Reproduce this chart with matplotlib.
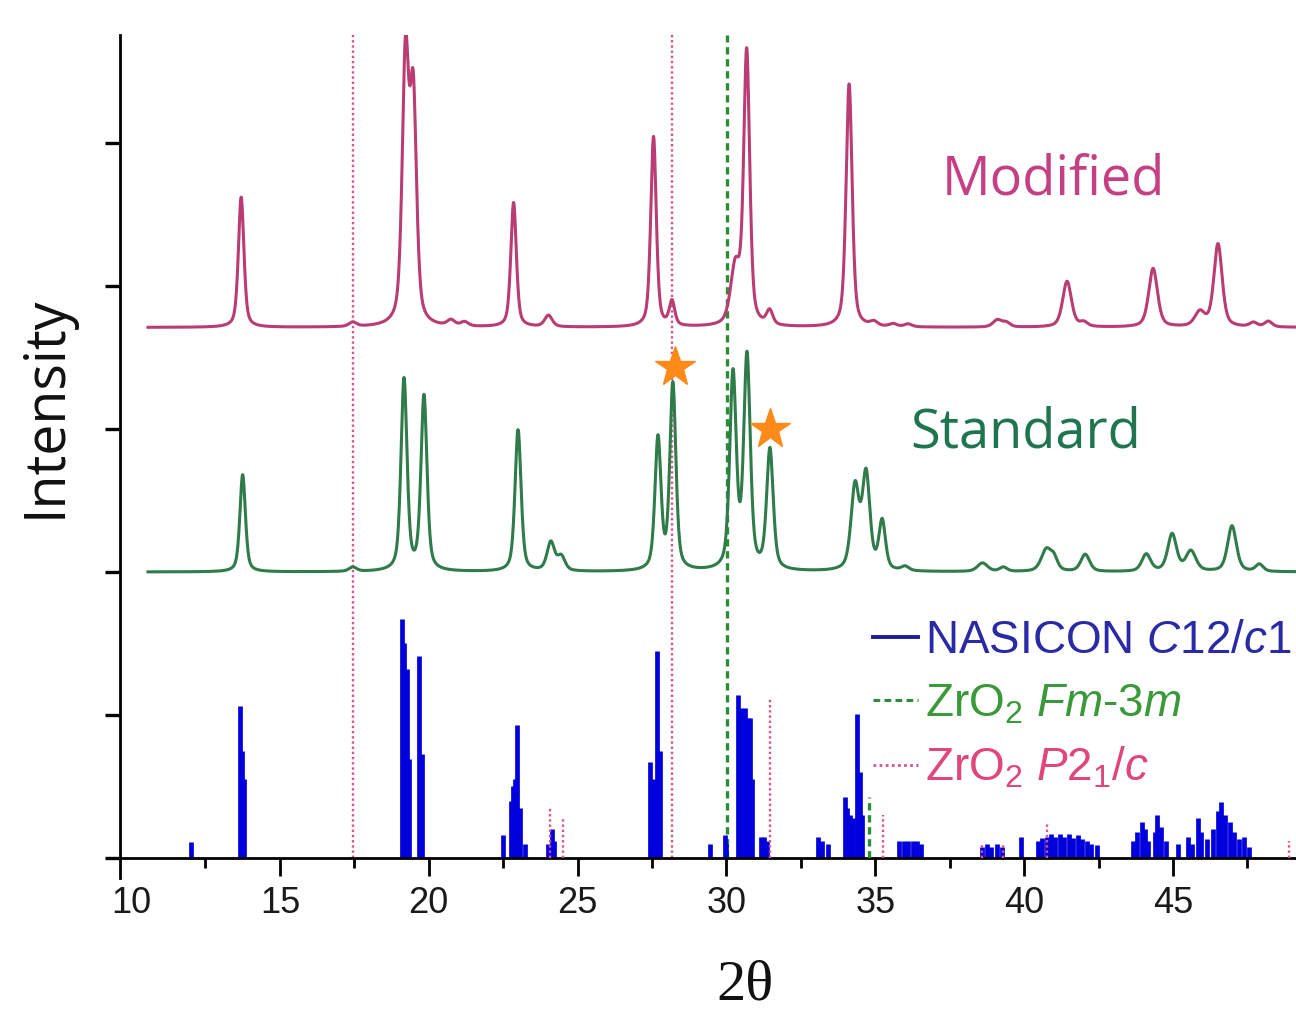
import numpy as np
import matplotlib
matplotlib.use("Agg")
import matplotlib.pyplot as plt
from matplotlib.lines import Line2D
from matplotlib.ticker import MultipleLocator

plt.rcParams['mathtext.fontset'] = 'custom'
plt.rcParams['mathtext.rm'] = 'Liberation Sans'
plt.rcParams['mathtext.it'] = 'Liberation Sans:italic'

# ---------------- data ----------------
# Modified pattern: peak positions (2theta), heights (a.u.), widths (deg)
mod_pos = [13.70, 17.45, 19.22, 19.48, 20.75, 21.20, 22.85, 24.02, 27.55, 28.17,
           30.30, 30.68, 31.45, 34.12, 34.95, 35.60, 36.10, 39.10, 39.40, 41.44,
           42.00, 44.33, 45.90, 46.51, 47.70, 48.20]
mod_hgt = [0.91, 0.03, 1.85, 1.55, 0.04, 0.03, 0.87, 0.08, 1.33, 0.17,
           0.40, 1.90, 0.10, 1.70, 0.03, 0.02, 0.02, 0.05, 0.03, 0.32,
           0.03, 0.41, 0.10, 0.58, 0.03, 0.04]
mod_wid = [0.22, 0.30, 0.26, 0.26, 0.30, 0.30, 0.22, 0.30, 0.22, 0.22,
           0.38, 0.24, 0.25, 0.24, 0.30, 0.30, 0.30, 0.35, 0.30, 0.35,
           0.30, 0.35, 0.40, 0.33, 0.30, 0.30]
mod_base = 3.71

# Standard pattern
std_pos = [13.75, 17.45, 19.17, 19.84, 23.00, 24.10, 24.45, 27.70, 28.20, 30.22,
           30.69, 31.46, 34.32, 34.69, 35.23, 36.00, 38.60, 39.30, 40.74, 41.00,
           42.05, 44.10, 44.97, 45.60, 46.98, 47.90]
std_hgt = [0.68, 0.03, 1.34, 1.22, 0.99, 0.20, 0.10, 0.92, 1.30, 1.36,
           1.48, 0.84, 0.58, 0.66, 0.34, 0.03, 0.06, 0.03, 0.15, 0.08,
           0.12, 0.12, 0.26, 0.14, 0.32, 0.05]
std_wid = [0.22, 0.30, 0.24, 0.24, 0.24, 0.30, 0.30, 0.24, 0.24, 0.26,
           0.26, 0.26, 0.32, 0.30, 0.26, 0.30, 0.40, 0.30, 0.40, 0.30,
           0.35, 0.35, 0.35, 0.40, 0.35, 0.30]
std_base = 2.00

# NASICON C12/c1 reference sticks
nas_pos = [12.00, 13.66, 13.72, 13.78, 19.10, 19.18, 19.27, 19.34, 19.67, 19.77,
           22.50, 22.75, 22.83, 22.90, 22.97, 23.05, 23.23, 24.00, 24.13, 24.22,
           27.43, 27.55, 27.67, 27.77, 29.45, 29.95, 30.00, 30.39, 30.50, 30.62,
           30.72, 30.79, 30.86, 31.15, 31.25, 31.35, 33.08, 33.20, 33.40, 33.98,
           34.05, 34.15, 34.25, 34.39, 34.47, 34.55, 35.80, 35.95, 36.10, 36.25,
           36.40, 36.55, 38.60, 38.75, 38.90, 39.10, 39.25, 39.90, 40.45, 40.60,
           40.75, 40.90, 41.05, 41.20, 41.35, 41.50, 41.65, 41.80, 41.95, 42.10,
           42.25, 42.45, 43.65, 43.80, 43.95, 44.05, 44.15, 44.40, 44.47, 44.60,
           44.75, 45.15, 45.50, 45.65, 45.84, 45.95, 46.15, 46.35, 46.50, 46.62,
           46.75, 46.90, 47.05, 47.20, 47.40, 47.55]
nas_hgt = [0.11, 1.06, 0.75, 0.55, 1.67, 1.50, 1.32, 0.69, 1.41, 0.73,
           0.16, 0.40, 0.50, 0.55, 0.93, 0.35, 0.10, 0.10, 0.20, 0.12,
           0.67, 0.55, 1.45, 0.75, 0.10, 0.16, 0.10, 1.14, 1.05, 1.05,
           0.98, 0.98, 0.55, 0.15, 0.15, 0.12, 0.15, 0.12, 0.10, 0.43,
           0.35, 0.30, 0.28, 1.01, 0.60, 0.30, 0.12, 0.12, 0.12, 0.12,
           0.12, 0.10, 0.08, 0.10, 0.08, 0.10, 0.08, 0.15, 0.12, 0.14,
           0.15, 0.17, 0.15, 0.17, 0.15, 0.17, 0.14, 0.16, 0.13, 0.12,
           0.10, 0.09, 0.12, 0.18, 0.25, 0.20, 0.12, 0.18, 0.30, 0.22,
           0.12, 0.10, 0.15, 0.10, 0.28, 0.18, 0.13, 0.20, 0.33, 0.39,
           0.30, 0.25, 0.18, 0.13, 0.15, 0.08]

# ZrO2 reference lines
mono_full = [17.45, 28.17]            # P2_1/c, full height
mono_pos = [24.07, 24.50, 31.45, 35.26, 38.60, 39.30, 40.75, 48.90]
mono_hgt = [0.35, 0.27, 1.12, 0.30, 0.10, 0.10, 0.24, 0.12]
cub_full = [30.02]                     # Fm-3m, full height
cub_pos = [34.79]
cub_hgt = [0.43]

star_x = [28.27, 31.46]
star_y = [3.43, 3.00]

xticks = [10, 15, 20, 25, 30, 35, 40, 45]


def profile(x, pos, hgt, wid, eta=0.5):
    y = np.zeros_like(x)
    for p, h, w in zip(pos, hgt, wid):
        d = (x - p) / w
        g = np.exp(-4 * np.log(2) * d ** 2)
        l = 1.0 / (1.0 + 4 * d ** 2)
        y += h * (eta * l + (1 - eta) * g)
    return y


x = np.arange(10.57, 49.2, 0.01)
y_mod = mod_base + profile(x, mod_pos, mod_hgt, mod_wid)
y_std = std_base + profile(x, std_pos, std_hgt, std_wid)

# ---------------- figure ----------------
W, H = 1296, 1023
fig = plt.figure(figsize=(W / 100, H / 100), dpi=100)
ax = fig.add_axes([120 / W, 165 / H, 1176 / W, 823 / H])
ax.set_xlim(9.63, 49.13)
ax.set_ylim(0, 5.755)

c_mod = '#b93c73'
c_std = '#2f7b4a'
c_blue = '#0000dc'
c_pink = '#e0508c'
c_green = '#2a8f34'

# reference lines
for xv in mono_full:
    ax.axvline(xv, color=c_pink, lw=1.7, ls=(0, (1.0, 1.2)), zorder=1)
for xv in cub_full:
    ax.axvline(xv, color=c_green, lw=2.4, ls=(0, (2.2, 1.4)), zorder=1)

ax.vlines(nas_pos, 0, nas_hgt, color=c_blue, lw=3.4, zorder=2)
ax.vlines(mono_pos, 0, mono_hgt, color=c_pink, lw=1.7, linestyles=[(0, (1.0, 1.2))], zorder=3)
ax.vlines(cub_pos, 0, cub_hgt, color=c_green, lw=2.4, linestyles=[(0, (2.2, 1.4))], zorder=3)

ax.plot(x, y_mod, color=c_mod, lw=2.2, zorder=4)
ax.plot(x, y_std, color=c_std, lw=2.2, zorder=4)

ax.plot(star_x, star_y, ls='none', marker='*', ms=30, color='#ff8a18',
        mec='#ff8a18', zorder=5)

ax.text(37.24, 4.64, 'Modified', fontsize=39, family='Open Sans', color='#c53f84',
        va='baseline', ha='left')
ax.text(36.17, 2.87, 'Standard', fontsize=39, family='Open Sans', color='#1f7550',
        va='baseline', ha='left')

# axes styling
for s in ['top', 'right']:
    ax.spines[s].set_visible(False)
for s in ['left', 'bottom']:
    ax.spines[s].set_linewidth(2.0)
ax.spines['left'].set_bounds(-0.14, 5.755)

ax.set_xticks(xticks)
ax.xaxis.set_minor_locator(MultipleLocator(2.5))
ax.set_xticklabels([str(v) for v in xticks], fontsize=26, family='Liberation Sans',
                   color='#1a1a1a')
ax.tick_params(axis='x', which='major', direction='out', length=13, width=2.0, pad=7)
ax.tick_params(axis='x', which='minor', direction='out', length=7, width=2.0)
ax.xaxis.get_major_ticks()[0].tick1line.set_visible(False)

ax.set_yticks([0, 1, 2, 3, 4, 5])
ax.set_yticklabels([])
ax.tick_params(axis='y', which='major', direction='out', length=11, width=2.4)

fig.text(46 / W, 1 - 407 / H, 'Intensity', rotation=90, fontsize=40, family='Open Sans',
         color='#111111', ha='center', va='center')
fig.text(745 / W, 1 - 985 / H, '2θ', fontsize=42, family='Liberation Serif',
         color='#111111', ha='center', va='center')

# legend
handles = [Line2D([], [], color='#1c1c9c', lw=2.8),
           Line2D([], [], color='#2e8b3a', lw=2.2, ls=(0, (2.2, 1.4))),
           Line2D([], [], color=c_pink, lw=2.0, ls=(0, (1.0, 1.2)))]
labels = [r'NASICON $\mathit{C12/c1}$',
          r'ZrO$_2$ $\mathit{Fm}$-$\mathit{3m}$',
          r'ZrO$_2$ $\mathit{P2_1/c}$']
leg = fig.legend(handles, labels, loc='upper left', bbox_to_anchor=(873 / W, 1 - 619 / H),
                 frameon=False, prop={'family': 'Liberation Sans', 'size': 33},
                 handlelength=0.98, handletextpad=0.15, labelspacing=0.42,
                 borderpad=0, borderaxespad=0)
for t, c in zip(leg.get_texts(), ['#2a2aa6', '#3a9a3a', '#e0457b']):
    t.set_color(c)

fig.savefig('out.png', dpi=100)
